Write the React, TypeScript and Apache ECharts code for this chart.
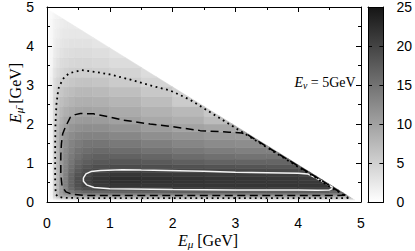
import React, { useEffect, useRef } from 'react';
import * as echarts from 'echarts';

// cell edges (GeV)
const xEdges = [0.05, 0.1, 0.15, 0.2, 0.26, 0.34, 0.44, 0.56, 0.72, 1.0, 1.5, 2.0, 2.5, 3.0, 3.5, 4.0, 4.5, 4.95];
const yEdges = [0.05, 0.08, 0.11, 0.14, 0.18, 0.23, 0.3, 0.38, 0.47, 0.56, 0.66, 0.76, 0.86, 0.96, 1.1, 1.25, 1.4, 1.6, 1.8, 2.0, 2.2, 2.45, 2.7, 2.95, 3.2, 3.45, 3.7, 3.95, 4.2, 4.45, 4.7, 4.9];
const kinematicLimit = 4.95;

// density values, one row per y-cell (bottom to top), columns left to right
const density = [
  [0.5, 1.2, 1.7, 2.0, 2.2, 2.3, 2.4, 2.5, 2.5, 2.5, 2.5, 2.5, 2.5, 2.5, 2.5, 2.5, 2.5],
  [0.8, 2.6, 3.8, 4.5, 5.0, 5.2, 5.4, 5.5, 5.5, 5.5, 5.5, 5.5, 5.5, 5.5, 5.5, 5.5, 5.2],
  [1.0, 3.8, 5.6, 6.6, 7.2, 7.5, 7.7, 7.8, 7.8, 7.8, 7.8, 7.8, 7.9, 7.9, 7.9, 7.9, 7.4],
  [1.1, 4.5, 7.0, 8.6, 9.5, 10.0, 10.2, 10.4, 10.4, 10.4, 10.4, 10.5, 10.5, 10.6, 10.6, 10.6, 10.0],
  [1.2, 4.6, 7.5, 9.8, 11.3, 12.3, 12.9, 13.2, 13.3, 13.3, 13.4, 13.5, 13.6, 13.7, 13.7, 13.7, 13.0],
  [1.2, 4.6, 7.6, 10.4, 12.6, 14.5, 15.7, 16.3, 16.5, 16.6, 16.8, 17.0, 17.1, 17.2, 17.2, 17.2, 16.5],
  [1.2, 4.6, 7.6, 10.6, 13.3, 15.9, 17.9, 19.0, 19.6, 19.8, 20.0, 20.2, 20.3, 20.4, 20.4, 20.4, 19.8],
  [1.2, 4.6, 7.6, 10.6, 13.5, 16.4, 18.6, 20.2, 21.1, 21.5, 21.5, 21.5, 21.5, 21.5, 21.5, 21.4, 20.5],
  [1.2, 4.6, 7.6, 10.6, 13.5, 16.5, 18.8, 20.5, 21.6, 22.2, 22.0, 21.8, 21.6, 21.5, 21.4, 21.2],
  [1.2, 4.6, 7.6, 10.6, 13.5, 16.5, 18.8, 20.5, 21.6, 22.2, 22.0, 21.8, 21.6, 21.5, 21.3, 21.0],
  [1.2, 4.6, 7.6, 10.6, 13.4, 16.2, 18.3, 19.9, 20.9, 21.4, 21.2, 21.0, 20.8, 20.7, 20.6, 20.3],
  [1.2, 4.6, 7.6, 10.5, 13.1, 15.6, 17.5, 18.9, 19.7, 20.1, 19.9, 19.7, 19.5, 19.4, 19.3, 19.0],
  [1.2, 4.6, 7.6, 10.5, 12.9, 15.1, 16.9, 18.1, 18.8, 19.1, 18.8, 18.5, 18.3, 18.2, 18.0, 17.6],
  [1.2, 4.6, 7.6, 10.5, 12.7, 14.6, 16.2, 17.2, 17.8, 18.0, 17.6, 17.1, 16.7, 16.6, 16.4],
  [1.2, 4.6, 7.6, 10.5, 12.5, 14.2, 15.4, 16.5, 17.0, 16.8, 16.3, 15.7, 15.3, 15.0, 14.9],
  [1.3, 4.7, 7.7, 10.5, 12.3, 13.7, 14.8, 15.5, 15.9, 15.6, 15.0, 14.4, 13.9, 13.6, 13.5],
  [1.3, 4.8, 7.8, 10.4, 12.0, 13.2, 14.0, 14.6, 14.7, 14.3, 13.7, 12.9, 12.4, 12.2, 12.1],
  [1.4, 4.8, 7.7, 9.8, 11.2, 12.3, 12.9, 13.3, 13.3, 12.8, 12.0, 11.3, 10.8, 10.6],
  [1.4, 4.8, 7.4, 9.2, 10.3, 11.2, 11.8, 12.1, 12.0, 11.4, 10.6, 9.8, 9.4, 9.0],
  [1.5, 4.5, 6.8, 8.3, 9.5, 10.2, 10.6, 10.8, 10.6, 10.0, 9.2, 8.6, 7.2],
  [1.5, 4.4, 6.4, 7.6, 8.5, 9.1, 9.5, 9.7, 9.5, 9.0, 8.2, 7.5, 6.0],
  [1.6, 4.4, 5.9, 6.8, 7.5, 8.0, 8.4, 8.6, 8.4, 7.9, 7.0, 5.6],
  [1.5, 4.0, 5.2, 6.0, 6.6, 7.1, 7.5, 7.6, 7.4, 6.8, 5.9, 4.8],
  [1.4, 3.5, 4.5, 5.1, 5.6, 6.0, 6.3, 6.4, 6.2, 5.6, 4.6],
  [1.2, 2.9, 3.7, 4.3, 4.8, 5.1, 5.2, 5.2, 5.0, 4.6, 3.7],
  [1.0, 2.4, 3.1, 3.6, 4.0, 4.3, 4.4, 4.4, 4.2, 3.7],
  [0.9, 2.0, 2.6, 3.0, 3.4, 3.6, 3.7, 3.7, 3.5, 3.0],
  [0.8, 1.7, 2.2, 2.6, 2.9, 3.1, 3.1, 3.1, 2.8],
  [0.7, 1.5, 1.9, 2.2, 2.5, 2.6, 2.6, 2.6, 2.4],
  [0.6, 1.3, 1.6, 1.9, 2.1, 2.2, 2.1],
  [0.5, 1.1, 1.4, 1.6],
];

// contour lines [E_mu, E_mubar]
const dottedContour = [
  [4.8, 0.1], [4.0, 0.1], [3.0, 0.1], [2.0, 0.1], [1.0, 0.1], [0.5, 0.1], [0.25, 0.11], [0.17, 0.14],
  [0.14, 0.2], [0.13, 0.5], [0.13, 1.0], [0.13, 1.5], [0.135, 2.0], [0.15, 2.5], [0.18, 2.9], [0.25, 3.15],
  [0.35, 3.3], [0.55, 3.38], [0.8, 3.33], [1.0, 3.27], [1.3, 3.15], [1.64, 2.99], [1.96, 2.86], [2.28, 2.62],
  [2.5, 2.4], [3.0, 1.9], [3.5, 1.4], [4.0, 0.9], [4.5, 0.4], [4.8, 0.1],
];
const dashedContour = [
  [4.75, 0.17], [4.0, 0.165], [3.0, 0.165], [2.0, 0.165], [1.0, 0.165], [0.6, 0.17], [0.4, 0.2], [0.3, 0.26],
  [0.24, 0.4], [0.22, 0.7], [0.22, 1.2], [0.23, 1.5], [0.25, 1.75], [0.29, 1.91], [0.37, 2.17], [0.45, 2.24],
  [0.53, 2.27], [0.74, 2.26], [1.0, 2.18], [1.21, 2.1], [1.64, 2.0], [1.91, 1.95], [2.44, 1.83], [2.9, 1.79],
  [3.1, 1.77], [3.2, 1.72], [3.6, 1.32], [4.0, 0.92], [4.4, 0.52], [4.75, 0.17],
];
const whiteContour = [
  [0.58, 0.62], [0.62, 0.72], [0.7, 0.78], [0.85, 0.81], [1.2, 0.83], [1.5, 0.82], [1.9, 0.81], [2.5, 0.79],
  [3.0, 0.76], [3.5, 0.75], [4.0, 0.74], [4.15, 0.72], [4.3, 0.6], [4.45, 0.47], [4.56, 0.36], [4.5, 0.31],
  [4.3, 0.3], [4.0, 0.31], [3.0, 0.31], [2.0, 0.32], [1.0, 0.34], [0.75, 0.37], [0.63, 0.44], [0.58, 0.53],
  [0.58, 0.62],
];

const axisMin = 0;
const axisMax = 5;
const axisStep = 1;
const cbMin = 0;
const cbMax = 25;
const cbStep = 5;

const sans = 'Liberation Sans';
const serif = 'Liberation Serif';

function clipPoly(pts: number[][]): number[][] {
  const out: number[][] = [];
  const f = (p: number[]) => kinematicLimit - p[0] - p[1];
  for (let i = 0; i < pts.length; i++) {
    const a = pts[i];
    const b = pts[(i + 1) % pts.length];
    const fa = f(a);
    const fb = f(b);
    if (fa >= 0) out.push(a);
    if ((fa >= 0) !== (fb >= 0)) {
      const t = fa / (fa - fb);
      out.push([a[0] + t * (b[0] - a[0]), a[1] + t * (b[1] - a[1])]);
    }
  }
  return out;
}

function richFor(size: number) {
  return {
    e: { fontFamily: serif, fontStyle: 'italic', fontSize: size, lineHeight: size + 3, verticalAlign: 'middle', fill: '#000' },
    s: { fontFamily: serif, fontStyle: 'italic', fontSize: size * 0.7, lineHeight: size * 0.7, verticalAlign: 'bottom', fill: '#000' },
    r: { fontFamily: serif, fontSize: size, lineHeight: size + 3, verticalAlign: 'middle', fill: '#000' },
  };
}

export default function App() {
  const ref = useRef<HTMLDivElement>(null);
  useEffect(() => {
    if (!ref.current) return;
    const chart = echarts.init(ref.current, undefined, { renderer: 'svg' });

    const cells: number[][] = [];
    density.forEach((row, r) => row.forEach((v, c) => cells.push([c, r, v])));

    const mainAxis = (extra: any) => ({
      type: 'value',
      min: axisMin,
      max: axisMax,
      interval: axisStep,
      gridIndex: 0,
      axisLine: { show: true, onZero: false, lineStyle: { color: '#000', width: 1 } },
      axisTick: { show: true, inside: true, length: 5, lineStyle: { color: '#000', width: 1 } },
      minorTick: { show: true, splitNumber: 2, length: 3, lineStyle: { color: '#000', width: 1 } },
      splitLine: { show: false },
      minorSplitLine: { show: false },
      axisLabel: { show: false },
      z: 10,
      ...extra,
    });
    const labelStyle = (margin: number) => ({ show: true, color: '#000', fontSize: 14, fontFamily: sans, margin });

    const cbX = (position: string) => ({
      type: 'value', gridIndex: 1, min: 0, max: 1, position,
      axisLine: { show: true, onZero: false, lineStyle: { color: '#000', width: 1 } },
      axisTick: { show: false }, axisLabel: { show: false }, splitLine: { show: false }, z: 10,
    });
    const cbY = (position: string, labels: boolean) => ({
      type: 'value', gridIndex: 1, min: cbMin, max: cbMax, interval: cbStep, position,
      axisLine: { show: true, onZero: false, lineStyle: { color: '#000', width: 1 } },
      axisTick: { show: true, inside: true, length: 4, lineStyle: { color: '#000', width: 1 } },
      axisLabel: labels ? labelStyle(13) : { show: false },
      splitLine: { show: false }, z: 10,
    });

    const contour = (data: number[][], color: string, width: number, type: any) => ({
      type: 'line', xAxisIndex: 0, yAxisIndex: 0, data, symbol: 'none', showSymbol: false,
      silent: true, z: 4, lineStyle: { color, width, type },
    });

    chart.setOption({
      animation: false,
      backgroundColor: '#fff',
      grid: [
        { left: 47, top: 5, width: 314, height: 197 },
        { left: 368, top: 5, width: 16, height: 197 },
      ],
      xAxis: [
        mainAxis({ position: 'bottom', axisLabel: labelStyle(14) }),
        mainAxis({ position: 'top' }),
        cbX('bottom'),
        cbX('top'),
      ],
      yAxis: [
        mainAxis({ position: 'left', axisLabel: labelStyle(13) }),
        mainAxis({ position: 'right' }),
        cbY('left', false),
        cbY('right', true),
      ],
      visualMap: {
        type: 'continuous', show: false, min: cbMin, max: cbMax, dimension: 2, seriesIndex: 0,
        inRange: { color: ['#ffffff', '#151515'] },
      },
      series: [
        {
          type: 'custom', xAxisIndex: 0, yAxisIndex: 0, data: cells, silent: true, z: 2,
          renderItem: (params: any, api: any) => {
            const c = api.value(0);
            const r = api.value(1);
            const x0 = xEdges[c], x1 = xEdges[c + 1], y0 = yEdges[r], y1 = yEdges[r + 1];
            const poly = clipPoly([[x0, y0], [x1, y0], [x1, y1], [x0, y1]]);
            if (poly.length < 3) return null;
            const pts = poly.map((p) => api.coord(p));
            const color = api.visual('color');
            return { type: 'polygon', shape: { points: pts }, style: { fill: color, stroke: color, lineWidth: 0.6 } };
          },
        },
        contour(whiteContour, '#f4f4f4', 1.5, 'solid'),
        contour(dashedContour, '#000', 1.5, [8, 4.5]),
        contour(dottedContour, '#000', 1.8, [1.8, 3.6]),
        {
          type: 'custom', xAxisIndex: 2, yAxisIndex: 2, data: [[cbMin, cbMax]], silent: true, z: 2,
          renderItem: (params: any, api: any) => {
            const p0 = api.coord([0, api.value(0)]);
            const p1 = api.coord([1, api.value(1)]);
            return {
              type: 'rect',
              shape: { x: p0[0], y: p1[1], width: p1[0] - p0[0], height: p0[1] - p1[1] },
              style: {
                fill: new echarts.graphic.LinearGradient(0, 0, 0, 1, [
                  { offset: 0, color: '#151515' },
                  { offset: 1, color: '#ffffff' },
                ]),
              },
            };
          },
        },
      ],
      graphic: [
        {
          type: 'text', x: 208, y: 240, z: 20,
          style: { text: '{e|E}{s|μ}{r| [GeV]}', rich: richFor(16), align: 'center', verticalAlign: 'middle', fill: '#000', fontSize: 16, fontFamily: serif },
        },
        {
          type: 'text', x: 15, y: 93, rotation: Math.PI / 2, z: 20,
          style: { text: '{e|E}{s|μ̄}{r| [GeV]}', rich: richFor(16), align: 'center', verticalAlign: 'middle', fill: '#000', fontSize: 16, fontFamily: serif },
        },
        {
          type: 'text', x: 325, y: 82, z: 20,
          style: { text: '{e|E}{s|ν}{r| = 5GeV}', rich: richFor(14), align: 'center', verticalAlign: 'middle', fill: '#000', fontSize: 14, fontFamily: serif },
        },
      ],
    });
    return () => chart.dispose();
  }, []);
  return <div ref={ref} style={{ width: 415, height: 251, position: 'absolute', left: 0, top: 0 }} />;
}
